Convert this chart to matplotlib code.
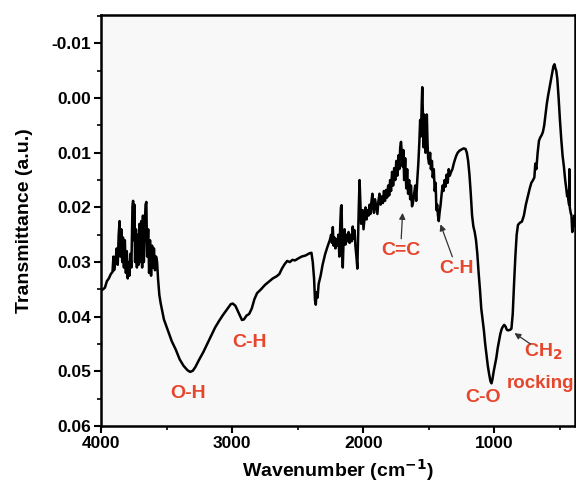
import numpy as np
import matplotlib.pyplot as plt
from matplotlib.ticker import MultipleLocator

plt.rcParams['font.family'] = ['Liberation Sans', 'DejaVu Sans']
plt.rcParams['font.weight'] = 'bold'

# FTIR spectrum (wavenumber in cm^-1, transmittance a.u.)
wavenumber = [
    4000, 3985, 3970, 3955, 3940, 3925, 3912, 3905, 3900, 3890, 3880, 3872, 3865, 3858, 3852,
    3845, 3838, 3832, 3825, 3818, 3810, 3803, 3796, 3790, 3783, 3776, 3768, 3760, 3755, 3750,
    3745, 3740, 3733, 3726, 3720, 3713, 3706, 3700, 3693, 3686, 3680, 3673, 3666, 3660, 3654,
    3648, 3640, 3633, 3626, 3618, 3610, 3603, 3596, 3588, 3580, 3572, 3565, 3555, 3545, 3520,
    3490, 3460, 3430, 3400, 3370, 3340, 3320, 3300, 3280, 3250, 3220, 3190, 3160, 3130, 3100,
    3070, 3040, 3010, 2995, 2975, 2950, 2925, 2910, 2890, 2870, 2850, 2830, 2810, 2780, 2750,
    2720, 2690, 2660, 2640, 2620, 2600, 2580, 2560, 2540, 2520, 2500, 2470, 2440, 2410, 2395,
    2385, 2375, 2368, 2362, 2355, 2348, 2340, 2325, 2310, 2290, 2270, 2255, 2245, 2238, 2232,
    2226, 2220, 2212, 2205, 2198, 2190, 2182, 2175, 2170, 2165, 2160, 2156, 2150, 2143, 2136,
    2128, 2120, 2112, 2104, 2096, 2088, 2080, 2072, 2066, 2060, 2052, 2045, 2040, 2034, 2028,
    2022, 2016, 2010, 2004, 1998, 1990, 1982, 1975, 1968, 1960, 1952, 1945, 1938, 1930, 1925,
    1918, 1910, 1900, 1892, 1885, 1876, 1868, 1860, 1850, 1842, 1834, 1826, 1818, 1810, 1802,
    1795, 1788, 1780, 1772, 1764, 1756, 1748, 1740, 1732, 1725, 1718, 1712, 1706, 1700, 1694,
    1688, 1680, 1672, 1665, 1658, 1650, 1642, 1636, 1628, 1620, 1612, 1604, 1596, 1588, 1580,
    1572, 1566, 1560, 1554, 1550, 1545, 1540, 1535, 1530, 1525, 1520, 1515, 1510, 1505, 1498,
    1490, 1484, 1476, 1470, 1462, 1455, 1448, 1442, 1436, 1430, 1424, 1418, 1410, 1402, 1395,
    1388, 1380, 1372, 1364, 1356, 1348, 1340, 1330, 1320, 1310, 1300, 1290, 1280, 1265, 1250,
    1235, 1220, 1210, 1200, 1190, 1180, 1170, 1160, 1150, 1140, 1130, 1120, 1110, 1100, 1090,
    1080, 1070, 1060, 1050, 1040, 1030, 1022, 1015, 1005, 995, 985, 975, 965, 955, 945,
    935, 925, 915, 905, 895, 880, 870, 860, 850, 840, 830, 820, 805, 790, 775,
    760, 745, 730, 718, 705, 695, 688, 680, 670, 660, 650, 640, 630, 620, 610,
    600, 590, 580, 570, 560, 550, 542, 535, 528, 520, 510, 500, 490, 480, 470,
    460, 452, 445, 440, 436, 430, 428, 425, 418, 412, 406, 400, 395, 390, 385,
]
transmittance = [
    0.0352, 0.0350, 0.0347, 0.0335, 0.0330, 0.0322, 0.0318, 0.0290, 0.0315, 0.0300, 0.0275, 0.0305, 0.0250, 0.0225, 0.0290,
    0.0240, 0.0300, 0.0255, 0.0310, 0.0260, 0.0320, 0.0280, 0.0330, 0.0300, 0.0325, 0.0285, 0.0310, 0.0200, 0.0188, 0.0260,
    0.0195, 0.0300, 0.0240, 0.0310, 0.0250, 0.0305, 0.0230, 0.0300, 0.0225, 0.0310, 0.0215, 0.0300, 0.0235, 0.0195, 0.0190,
    0.0290, 0.0240, 0.0320, 0.0260, 0.0325, 0.0270, 0.0310, 0.0275, 0.0315, 0.0290, 0.0300, 0.0330, 0.0360, 0.0375, 0.0405,
    0.0425, 0.0445, 0.0460, 0.0478, 0.0490, 0.0498, 0.0501, 0.0499, 0.0492, 0.0478, 0.0465, 0.0450, 0.0435, 0.0420, 0.0408,
    0.0397, 0.0387, 0.0377, 0.0376, 0.0380, 0.0393, 0.0406, 0.0405, 0.0398, 0.0395, 0.0385, 0.0368, 0.0357, 0.0350, 0.0342,
    0.0336, 0.0330, 0.0326, 0.0322, 0.0312, 0.0304, 0.0298, 0.0300, 0.0296, 0.0297, 0.0294, 0.0290, 0.0288, 0.0284, 0.0283,
    0.0300, 0.0330, 0.0370, 0.0378, 0.0355, 0.0365, 0.0340, 0.0325, 0.0305, 0.0285, 0.0270, 0.0260, 0.0250, 0.0265, 0.0236,
    0.0270, 0.0255, 0.0275, 0.0258, 0.0270, 0.0250, 0.0290, 0.0230, 0.0200, 0.0196, 0.0280, 0.0310, 0.0260, 0.0240, 0.0268,
    0.0250, 0.0262, 0.0245, 0.0265, 0.0250, 0.0262, 0.0235, 0.0258, 0.0242, 0.0270, 0.0290, 0.0312, 0.0260, 0.0200, 0.0150,
    0.0190, 0.0230, 0.0210, 0.0205, 0.0240, 0.0220, 0.0200, 0.0222, 0.0205, 0.0215, 0.0195, 0.0212, 0.0190, 0.0175, 0.0200,
    0.0210, 0.0185, 0.0200, 0.0212, 0.0190, 0.0175, 0.0195, 0.0180, 0.0192, 0.0170, 0.0188, 0.0168, 0.0182, 0.0160, 0.0178,
    0.0150, 0.0170, 0.0135, 0.0160, 0.0128, 0.0150, 0.0115, 0.0142, 0.0105, 0.0130, 0.0090, 0.0080, 0.0100, 0.0125, 0.0095,
    0.0150, 0.0110, 0.0165, 0.0130, 0.0175, 0.0150, 0.0185, 0.0160, 0.0198, 0.0190, 0.0175, 0.0160, 0.0188, 0.0150, 0.0120,
    0.0080, 0.0040, 0.0070, 0.0010, -0.0020, 0.0030, 0.0090, 0.0030, 0.0060, 0.0100, 0.0045, 0.0030, 0.0080, 0.0110, 0.0120,
    0.0100, 0.0130, 0.0115, 0.0145, 0.0130, 0.0170, 0.0155, 0.0205, 0.0195, 0.0215, 0.0225, 0.0210, 0.0195, 0.0175, 0.0160,
    0.0170, 0.0150, 0.0162, 0.0140, 0.0155, 0.0130, 0.0142, 0.0135, 0.0130, 0.0120, 0.0112, 0.0105, 0.0100, 0.0096, 0.0094,
    0.0092, 0.0093, 0.0100, 0.0115, 0.0140, 0.0175, 0.0215, 0.0235, 0.0245, 0.0260, 0.0285, 0.0320, 0.0350, 0.0385, 0.0405,
    0.0425, 0.0450, 0.0470, 0.0490, 0.0505, 0.0518, 0.0522, 0.0515, 0.0500, 0.0488, 0.0475, 0.0458, 0.0445, 0.0432, 0.0423,
    0.0418, 0.0415, 0.0418, 0.0424, 0.0425, 0.0424, 0.0422, 0.0395, 0.0340, 0.0290, 0.0250, 0.0232, 0.0228, 0.0226, 0.0215,
    0.0195, 0.0180, 0.0165, 0.0155, 0.0150, 0.0145, 0.0120, 0.0130, 0.0100, 0.0078, 0.0072, 0.0068, 0.0062, 0.0050, 0.0030,
    0.0010, -0.0005, -0.0018, -0.0030, -0.0045, -0.0058, -0.0062, -0.0055, -0.0050, -0.0035, 0.0000, 0.0040, 0.0075, 0.0105, 0.0125,
    0.0150, 0.0165, 0.0180, 0.0170, 0.0185, 0.0195, 0.0130, 0.0200, 0.0210, 0.0215, 0.0245, 0.0220, 0.0235, 0.0215, 0.0225,
]

red = '#e6462c'

fig = plt.figure(figsize=(5.76, 4.86), dpi=100)
ax = fig.add_axes([0.1753, 0.1235, 0.8230, 0.8455])
ax.set_facecolor('#f8f8f8')

ax.plot(wavenumber, transmittance, color='black', lw=1.8)

ax.set_xlim(4000, 385)
ax.set_ylim(0.06, -0.0152)
ax.xaxis.set_major_locator(MultipleLocator(1000))
ax.xaxis.set_minor_locator(MultipleLocator(500))
ax.yaxis.set_major_locator(MultipleLocator(0.01))
ax.yaxis.set_minor_locator(MultipleLocator(0.005))
ax.yaxis.set_major_formatter(plt.FormatStrFormatter('%.2f'))

for s in ax.spines.values():
    s.set_linewidth(1.8)
ax.tick_params(which='major', direction='out', length=5, width=1.5, labelsize=12.5, pad=2)
ax.tick_params(which='minor', direction='out', length=3, width=1.2)

ax.set_xlabel('Wavenumber (cm$^{\\mathbf{-1}}$)', fontsize=14, fontweight='bold')
ax.set_ylabel('Transmittance (a.u.)', fontsize=14, fontweight='bold')
ax.xaxis.set_label_coords(0.5, -0.075)
ax.yaxis.set_label_coords(-0.143, 0.5)

# band assignments
ax.text(3337, 0.0540, 'O-H', color=red, fontsize=14, ha='center', va='center')
ax.text(2865, 0.0448, 'C-H', color=red, fontsize=14, ha='center', va='center')
ax.text(1083, 0.0547, 'C-O', color=red, fontsize=14, ha='center', va='center')
ax.text(772, 0.0465, 'CH$_\\mathbf{2}$', color=red, fontsize=14, ha='left', va='center')
ax.text(905, 0.0523, 'rocking', color=red, fontsize=13.5, ha='left', va='center', clip_on=False)

arrow = dict(arrowstyle='-|>', color='#333333', lw=0.9, mutation_scale=9, shrinkA=0, shrinkB=0)
ax.annotate('C=C', xy=(1700, 0.0210), xytext=(1715, 0.0278), color=red, fontsize=14,
            ha='center', va='center', arrowprops=arrow)
ax.annotate('C-H', xy=(1411, 0.0231), xytext=(1289, 0.0311), color=red, fontsize=14,
            ha='center', va='center', arrowprops=arrow)
ax.annotate('', xy=(847, 0.0430), xytext=(725, 0.0450), arrowprops=arrow)

fig.savefig('out.png', dpi=100)
